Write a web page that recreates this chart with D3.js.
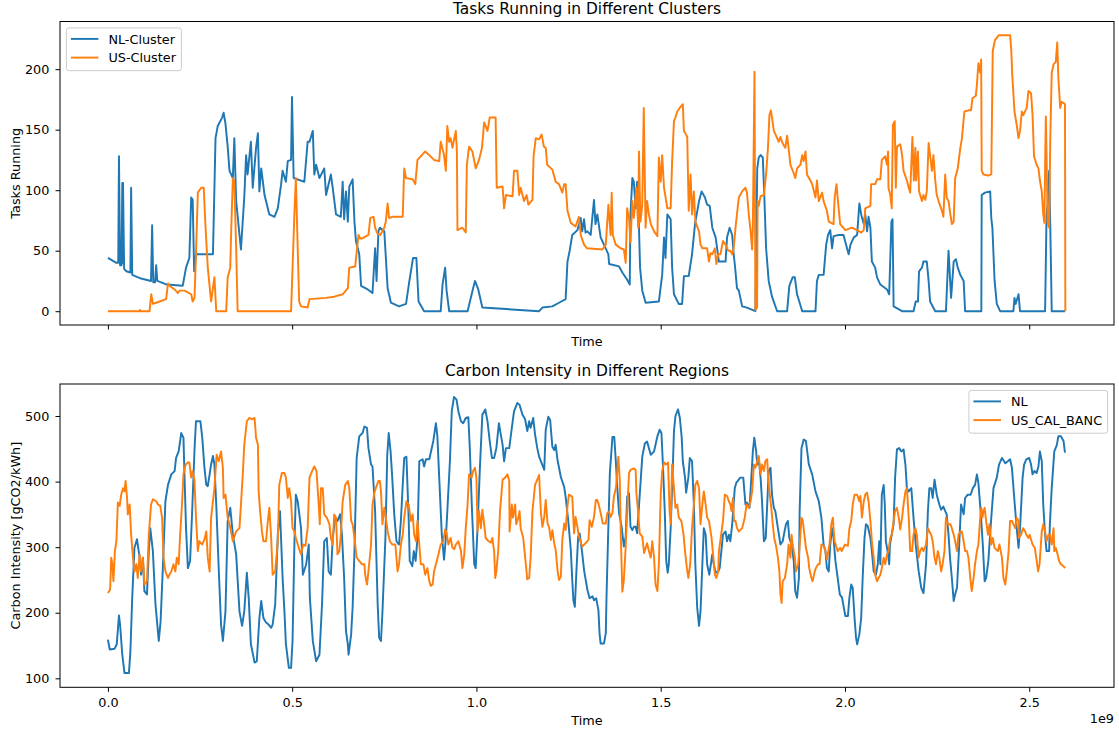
<!DOCTYPE html>
<html>
<head>
<meta charset="utf-8">
<script src="https://cdn.jsdelivr.net/npm/d3@7"></script>
<style>
  body { margin: 0; background: #fff; }
  svg { font-family: "DejaVu Sans", sans-serif; }
</style>
</head>
<body>
<svg id="chart" width="1119" height="730"></svg>
<script>
// time is in units of 1e9 (the axis shows the "1e9" offset)

// tasks running, NL cluster  [time, tasks]
const nlTasks = [[0,44],[0.023,40],[0.028,40],[0.030,128],[0.033,38],[0.037,38],[0.039,106],[0.040,40],[0.041,106],[0.044,35],[0.050,33],[0.061,32],[0.063,102],[0.066,30],[0.090,27],[0.117,25],[0.120,71],[0.123,24],[0.128,24],[0.131,38],[0.134,25],[0.160,22],[0.203,21],[0.212,36],[0.221,44],[0.226,94],[0.230,92],[0.234,33],[0.239,47],[0.285,47],[0.292,143],[0.298,153],[0.310,160],[0.314,164],[0.319,155],[0.325,136],[0.330,116],[0.339,110],[0.343,143],[0.348,91],[0.361,51],[0.370,94],[0.375,129],[0.379,113],[0.388,140],[0.393,102],[0.402,135],[0.407,147],[0.411,99],[0.416,118],[0.425,96],[0.438,80],[0.452,78],[0.461,85],[0.470,105],[0.474,116],[0.483,107],[0.488,124],[0.497,125],[0.4995,177],[0.504,110],[0.533,107],[0.542,140],[0.547,140],[0.556,149],[0.560,113],[0.565,121],[0.574,110],[0.587,118],[0.592,96],[0.605,113],[0.610,102],[0.619,80],[0.632,78],[0.637,107],[0.641,76],[0.646,99],[0.651,74],[0.655,103],[0.664,109],[0.669,74],[0.673,58],[0.682,47],[0.687,21],[0.705,18],[0.718,15],[0.725,52],[0.729,25],[0.734,66],[0.738,69],[0.750,66],[0.759,19],[0.768,7],[0.790,4],[0.809,6],[0.818,25],[0.828,44],[0.837,44],[0.843,8],[0.858,0],[0.903,0],[0.908,22],[0.915,36],[0.919,17],[0.926,0],[0.976,0],[0.991,19],[0.996,25],[1.005,18],[1.016,3],[1.170,0],[1.179,3],[1.206,4],[1.224,7],[1.242,10],[1.247,41],[1.253,50],[1.260,63],[1.274,67],[1.283,77],[1.287,66],[1.292,76],[1.296,65],[1.301,66],[1.310,63],[1.319,92],[1.323,72],[1.328,80],[1.337,61],[1.346,55],[1.358,47],[1.360,39],[1.387,37],[1.396,32],[1.409,26],[1.416,22],[1.418,80],[1.423,110],[1.427,107],[1.432,85],[1.436,107],[1.441,69],[1.444,36],[1.450,17],[1.459,7],[1.495,8],[1.504,30],[1.509,61],[1.513,44],[1.518,80],[1.527,76],[1.531,36],[1.536,14],[1.549,6],[1.558,6],[1.563,29],[1.576,29],[1.585,47],[1.593,72],[1.604,91],[1.611,99],[1.620,94],[1.626,88],[1.633,87],[1.640,69],[1.649,61],[1.658,41],[1.676,41],[1.680,61],[1.687,69],[1.694,63],[1.698,47],[1.701,39],[1.707,19],[1.712,17],[1.721,4],[1.734,3],[1.757,0],[1.762,118],[1.766,127],[1.771,129],[1.777,127],[1.781,96],[1.786,52],[1.793,25],[1.802,12],[1.816,0],[1.843,0],[1.849,21],[1.858,28],[1.864,28],[1.870,14],[1.884,0],[1.920,0],[1.924,25],[1.929,30],[1.942,30],[1.949,55],[1.954,63],[1.960,67],[1.965,52],[1.969,62],[1.983,63],[1.996,63],[2.003,55],[2.010,47],[2.015,55],[2.024,61],[2.033,63],[2.039,89],[2.044,80],[2.051,72],[2.055,80],[2.060,66],[2.064,78],[2.069,69],[2.073,41],[2.082,36],[2.087,28],[2.096,22],[2.114,18],[2.120,14],[2.126,74],[2.129,76],[2.132,4],[2.155,0],[2.186,0],[2.192,8],[2.198,8],[2.201,33],[2.209,36],[2.213,41],[2.222,41],[2.227,25],[2.231,8],[2.245,0],[2.274,0],[2.281,50],[2.288,11],[2.295,41],[2.301,43],[2.306,36],[2.313,30],[2.322,25],[2.326,0],[2.370,0],[2.371,96],[2.380,98],[2.394,99],[2.397,77],[2.400,69],[2.406,25],[2.412,6],[2.421,0],[2.457,0],[2.460,11],[2.463,6],[2.471,14],[2.475,0],[2.543,0],[2.547,80],[2.550,88],[2.554,116],[2.557,72],[2.561,0],[2.597,0]];

// tasks running, US cluster
const usTasks = [[0,0],[0.086,0],[0.087,1],[0.088,0],[0.113,0],[0.1175,14],[0.122,6],[0.131,7],[0.158,10],[0.163,23],[0.167,21],[0.181,18],[0.190,15],[0.194,17],[0.208,17],[0.226,14],[0.230,8],[0.235,11],[0.239,47],[0.244,98],[0.253,102],[0.260,102],[0.265,69],[0.271,36],[0.280,8],[0.285,19],[0.289,28],[0.294,0],[0.321,0],[0.325,28],[0.332,36],[0.334,61],[0.339,110],[0.343,107],[0.348,52],[0.352,0],[0.497,0],[0.506,80],[0.510,110],[0.515,52],[0.519,8],[0.524,4],[0.542,3],[0.547,10],[0.592,11],[0.614,12],[0.637,14],[0.651,19],[0.655,36],[0.671,37],[0.676,52],[0.680,63],[0.685,60],[0.689,60],[0.707,63],[0.712,77],[0.721,78],[0.725,69],[0.732,64],[0.739,63],[0.750,69],[0.754,74],[0.759,89],[0.763,77],[0.772,78],[0.800,78],[0.804,118],[0.809,110],[0.827,109],[0.834,105],[0.840,125],[0.849,128],[0.861,132],[0.872,129],[0.885,125],[0.899,124],[0.903,140],[0.912,129],[0.917,116],[0.921,153],[0.926,140],[0.930,143],[0.935,135],[0.944,149],[0.947,132],[0.9485,67],[0.962,69],[0.971,65],[0.974,121],[0.980,136],[0.989,132],[0.998,118],[1.007,125],[1.015,135],[1.021,156],[1.030,149],[1.036,160],[1.052,160],[1.055,102],[1.071,103],[1.075,85],[1.080,96],[1.098,95],[1.102,116],[1.111,116],[1.116,96],[1.120,102],[1.129,91],[1.136,96],[1.141,88],[1.152,92],[1.155,128],[1.161,143],[1.170,142],[1.177,146],[1.183,136],[1.188,135],[1.192,121],[1.206,117],[1.215,107],[1.224,105],[1.233,98],[1.238,105],[1.242,105],[1.247,83],[1.256,73],[1.269,70],[1.278,78],[1.283,63],[1.292,55],[1.300,52],[1.342,51],[1.351,55],[1.358,88],[1.364,63],[1.367,98],[1.370,63],[1.378,55],[1.391,52],[1.400,51],[1.405,40],[1.409,85],[1.414,77],[1.418,57],[1.423,91],[1.427,77],[1.434,102],[1.439,69],[1.441,132],[1.445,74],[1.450,88],[1.454,168],[1.459,69],[1.463,91],[1.468,80],[1.473,72],[1.482,66],[1.491,62],[1.495,127],[1.500,107],[1.504,129],[1.509,102],[1.518,85],[1.527,85],[1.531,124],[1.536,157],[1.540,160],[1.545,165],[1.554,169],[1.560,171],[1.563,149],[1.567,147],[1.572,144],[1.576,83],[1.581,113],[1.585,80],[1.590,99],[1.594,74],[1.604,66],[1.608,55],[1.613,52],[1.626,52],[1.631,41],[1.635,48],[1.640,47],[1.647,52],[1.651,39],[1.656,47],[1.662,47],[1.669,58],[1.676,55],[1.683,50],[1.689,50],[1.694,47],[1.698,52],[1.703,69],[1.712,94],[1.721,99],[1.730,102],[1.734,98],[1.739,80],[1.744,66],[1.748,51],[1.750,69],[1.7545,198],[1.757,1],[1.7615,3],[1.763,91],[1.766,87],[1.771,95],[1.780,96],[1.786,113],[1.791,135],[1.795,162],[1.799,166],[1.802,160],[1.807,149],[1.816,143],[1.820,140],[1.825,144],[1.829,140],[1.834,137],[1.838,135],[1.843,145],[1.847,135],[1.852,121],[1.861,114],[1.865,110],[1.870,118],[1.879,121],[1.884,129],[1.888,124],[1.893,132],[1.897,113],[1.906,108],[1.911,105],[1.920,94],[1.924,108],[1.929,91],[1.938,98],[1.942,91],[1.951,83],[1.956,74],[1.969,72],[1.972,94],[1.977,105],[1.981,91],[1.987,72],[2.001,67],[2.019,69],[2.033,67],[2.044,65],[2.051,67],[2.055,85],[2.069,87],[2.071,105],[2.082,105],[2.087,109],[2.096,109],[2.100,125],[2.109,128],[2.114,121],[2.117,132],[2.118,102],[2.123,96],[2.127,85],[2.130,154],[2.135,157],[2.138,102],[2.141,136],[2.150,138],[2.155,129],[2.159,116],[2.168,108],[2.173,102],[2.177,98],[2.183,144],[2.187,108],[2.191,135],[2.193,108],[2.198,132],[2.201,99],[2.209,91],[2.213,96],[2.218,92],[2.222,99],[2.227,139],[2.231,129],[2.236,116],[2.240,129],[2.245,108],[2.249,96],[2.254,91],[2.263,83],[2.267,78],[2.272,113],[2.276,94],[2.281,91],[2.286,80],[2.290,72],[2.295,74],[2.299,110],[2.306,118],[2.313,135],[2.317,142],[2.324,165],[2.335,166],[2.342,166],[2.346,176],[2.355,178],[2.358,187],[2.362,205],[2.367,197],[2.3695,208],[2.371,116],[2.376,113],[2.389,112],[2.397,113],[2.401,215],[2.407,224],[2.417,228],[2.448,228],[2.451,217],[2.454,195],[2.460,165],[2.466,154],[2.471,143],[2.475,149],[2.480,165],[2.484,162],[2.493,168],[2.498,182],[2.505,180],[2.509,162],[2.513,128],[2.520,121],[2.525,118],[2.529,108],[2.534,99],[2.538,80],[2.541,73],[2.545,161],[2.547,129],[2.550,73],[2.554,69],[2.557,140],[2.561,197],[2.566,204],[2.572,206],[2.576,222],[2.579,193],[2.584,168],[2.588,173],[2.593,172],[2.597,171],[2.598,0]];

// carbon intensity NL  [time, gCO2/kWh]
const nlCarbon = [[0,159],[0.005,144],[0.018,145],[0.024,152],[0.030,196],[0.033,182],[0.039,136],[0.045,108],[0.057,108],[0.061,141],[0.066,223],[0.072,299],[0.079,312],[0.086,284],[0.090,258],[0.095,284],[0.099,233],[0.106,228],[0.111,294],[0.115,329],[0.122,294],[0.129,213],[0.138,157],[0.143,187],[0.149,268],[0.156,370],[0.163,395],[0.172,411],[0.181,416],[0.185,436],[0.192,446],[0.199,474],[0.205,467],[0.208,406],[0.212,329],[0.217,268],[0.223,279],[0.229,360],[0.235,449],[0.239,492],[0.251,492],[0.256,467],[0.262,421],[0.267,395],[0.271,393],[0.276,411],[0.280,426],[0.285,439],[0.289,426],[0.294,365],[0.301,263],[0.307,182],[0.312,157],[0.319,202],[0.325,340],[0.332,360],[0.339,319],[0.348,289],[0.357,202],[0.364,180],[0.370,202],[0.377,261],[0.382,223],[0.388,152],[0.398,124],[0.404,126],[0.411,192],[0.416,218],[0.422,192],[0.429,185],[0.436,182],[0.443,177],[0.447,182],[0.454,213],[0.461,319],[0.467,355],[0.474,253],[0.479,202],[0.483,152],[0.491,116],[0.497,116],[0.501,157],[0.506,304],[0.510,380],[0.515,370],[0.524,329],[0.529,258],[0.538,274],[0.545,304],[0.548,223],[0.556,157],[0.565,126],[0.574,136],[0.581,213],[0.587,309],[0.594,314],[0.599,263],[0.605,258],[0.610,314],[0.617,345],[0.623,340],[0.630,350],[0.635,319],[0.641,253],[0.646,172],[0.651,152],[0.653,136],[0.660,167],[0.664,208],[0.669,294],[0.675,436],[0.682,469],[0.691,474],[0.696,484],[0.703,482],[0.707,451],[0.714,426],[0.718,423],[0.725,355],[0.732,213],[0.736,162],[0.741,157],[0.745,202],[0.753,314],[0.758,441],[0.762,474],[0.767,446],[0.771,411],[0.777,350],[0.783,309],[0.790,304],[0.795,340],[0.800,395],[0.804,436],[0.810,438],[0.816,345],[0.819,279],[0.826,271],[0.830,294],[0.835,279],[0.840,314],[0.845,431],[0.854,434],[0.858,423],[0.863,434],[0.872,434],[0.876,444],[0.883,462],[0.890,489],[0.894,469],[0.899,406],[0.906,319],[0.912,281],[0.917,314],[0.921,355],[0.928,431],[0.933,507],[0.939,529],[0.946,525],[0.951,507],[0.958,492],[0.964,489],[0.971,497],[0.978,498],[0.982,451],[0.987,370],[0.994,274],[0.998,268],[1.003,329],[1.009,416],[1.016,502],[1.024,510],[1.030,492],[1.036,462],[1.042,436],[1.048,436],[1.054,451],[1.061,489],[1.066,472],[1.071,456],[1.075,431],[1.080,451],[1.089,451],[1.096,482],[1.102,507],[1.111,520],[1.117,517],[1.125,502],[1.132,495],[1.138,477],[1.143,492],[1.147,482],[1.154,497],[1.159,472],[1.165,451],[1.170,438],[1.184,418],[1.188,479],[1.195,499],[1.200,494],[1.206,453],[1.211,448],[1.215,456],[1.220,433],[1.229,407],[1.238,392],[1.242,377],[1.249,341],[1.256,296],[1.260,250],[1.263,219],[1.267,209],[1.271,260],[1.276,316],[1.280,321],[1.287,291],[1.292,265],[1.301,235],[1.307,222],[1.315,225],[1.319,219],[1.325,222],[1.331,204],[1.334,169],[1.337,153],[1.346,153],[1.351,169],[1.353,225],[1.357,311],[1.362,413],[1.369,468],[1.374,468],[1.378,433],[1.382,392],[1.387,352],[1.394,331],[1.400,301],[1.405,316],[1.409,377],[1.414,382],[1.418,331],[1.423,326],[1.427,331],[1.432,331],[1.436,321],[1.441,362],[1.450,438],[1.457,458],[1.463,461],[1.473,441],[1.482,446],[1.491,469],[1.497,479],[1.502,474],[1.506,426],[1.511,355],[1.515,279],[1.519,261],[1.522,274],[1.527,329],[1.531,390],[1.536,477],[1.540,500],[1.547,510],[1.552,497],[1.557,467],[1.560,431],[1.566,406],[1.569,383],[1.575,406],[1.579,436],[1.585,431],[1.590,365],[1.594,274],[1.599,208],[1.604,180],[1.608,202],[1.613,274],[1.617,329],[1.622,319],[1.626,274],[1.632,258],[1.640,289],[1.644,274],[1.649,261],[1.656,263],[1.660,268],[1.669,319],[1.676,324],[1.680,309],[1.685,319],[1.689,309],[1.694,335],[1.701,390],[1.705,398],[1.716,406],[1.724,406],[1.730,365],[1.734,368],[1.741,360],[1.746,406],[1.750,446],[1.754,467],[1.759,446],[1.762,426],[1.766,436],[1.771,406],[1.775,370],[1.780,309],[1.785,314],[1.793,416],[1.798,421],[1.802,380],[1.807,360],[1.811,355],[1.818,329],[1.825,304],[1.831,309],[1.836,324],[1.840,335],[1.845,340],[1.849,314],[1.855,304],[1.861,279],[1.865,233],[1.870,223],[1.875,253],[1.877,355],[1.882,451],[1.888,464],[1.894,462],[1.902,426],[1.911,411],[1.920,385],[1.929,370],[1.936,345],[1.942,304],[1.947,294],[1.951,268],[1.956,263],[1.960,304],[1.965,329],[1.969,314],[1.974,279],[1.979,258],[1.986,228],[1.992,223],[2.001,195],[2.008,195],[2.012,223],[2.017,243],[2.021,238],[2.026,192],[2.030,162],[2.033,152],[2.039,167],[2.044,192],[2.048,253],[2.053,314],[2.057,335],[2.062,332],[2.069,314],[2.073,294],[2.078,263],[2.084,258],[2.089,274],[2.093,309],[2.096,274],[2.100,380],[2.105,395],[2.108,365],[2.111,309],[2.117,289],[2.120,274],[2.122,304],[2.132,335],[2.136,406],[2.141,449],[2.147,451],[2.153,446],[2.159,449],[2.164,426],[2.168,390],[2.173,385],[2.180,390],[2.186,345],[2.192,304],[2.200,263],[2.207,238],[2.213,230],[2.220,274],[2.225,355],[2.229,390],[2.234,390],[2.238,375],[2.243,403],[2.249,380],[2.256,365],[2.261,357],[2.267,362],[2.272,355],[2.276,350],[2.281,319],[2.285,284],[2.290,253],[2.295,218],[2.299,228],[2.304,238],[2.310,304],[2.315,365],[2.322,350],[2.326,375],[2.333,380],[2.341,380],[2.347,390],[2.353,395],[2.358,411],[2.362,398],[2.368,355],[2.374,304],[2.379,248],[2.383,253],[2.389,279],[2.397,345],[2.403,390],[2.412,406],[2.418,426],[2.426,436],[2.435,428],[2.442,431],[2.448,434],[2.453,421],[2.460,370],[2.466,329],[2.471,299],[2.475,329],[2.482,406],[2.486,426],[2.492,434],[2.500,436],[2.505,426],[2.509,411],[2.514,416],[2.520,413],[2.525,423],[2.529,446],[2.534,431],[2.538,365],[2.543,319],[2.547,294],[2.554,294],[2.556,335],[2.561,390],[2.568,446],[2.575,456],[2.579,469],[2.586,469],[2.593,462],[2.597,444]];

// carbon intensity US_CAL_BANC
const usCarbon = [[0,230],[0.006,235],[0.009,284],[0.012,274],[0.015,248],[0.019,294],[0.023,309],[0.027,368],[0.032,363],[0.036,380],[0.041,390],[0.045,385],[0.048,401],[0.052,375],[0.054,350],[0.059,365],[0.063,319],[0.068,284],[0.072,263],[0.077,274],[0.081,253],[0.086,289],[0.090,263],[0.095,284],[0.099,243],[0.106,248],[0.111,319],[0.117,365],[0.122,373],[0.131,370],[0.136,365],[0.142,363],[0.147,345],[0.151,284],[0.156,263],[0.163,253],[0.167,258],[0.172,263],[0.178,274],[0.183,263],[0.187,284],[0.192,274],[0.196,319],[0.201,365],[0.205,411],[0.211,426],[0.217,429],[0.221,429],[0.226,406],[0.230,416],[0.235,401],[0.239,345],[0.244,294],[0.248,309],[0.256,304],[0.262,312],[0.267,324],[0.271,284],[0.276,263],[0.280,345],[0.285,370],[0.289,390],[0.295,441],[0.301,431],[0.307,446],[0.312,421],[0.314,375],[0.319,380],[0.325,345],[0.330,335],[0.334,324],[0.339,309],[0.348,324],[0.357,329],[0.361,365],[0.366,411],[0.370,456],[0.377,492],[0.384,497],[0.391,495],[0.398,497],[0.402,467],[0.407,456],[0.409,385],[0.413,355],[0.418,324],[0.422,309],[0.429,309],[0.434,340],[0.438,360],[0.443,314],[0.447,258],[0.454,263],[0.461,309],[0.465,395],[0.472,413],[0.479,413],[0.483,406],[0.488,375],[0.492,390],[0.497,370],[0.501,329],[0.506,324],[0.510,314],[0.518,299],[0.524,289],[0.530,304],[0.536,302],[0.542,329],[0.547,406],[0.554,416],[0.560,423],[0.566,416],[0.572,365],[0.575,335],[0.578,390],[0.583,390],[0.587,350],[0.594,345],[0.601,335],[0.605,314],[0.610,304],[0.614,350],[0.619,345],[0.623,289],[0.628,294],[0.632,319],[0.637,370],[0.644,395],[0.651,401],[0.655,390],[0.660,340],[0.664,335],[0.669,314],[0.675,284],[0.682,279],[0.689,274],[0.696,274],[0.698,258],[0.703,243],[0.707,263],[0.714,304],[0.718,365],[0.723,383],[0.727,390],[0.734,401],[0.738,401],[0.741,385],[0.745,335],[0.750,360],[0.754,345],[0.759,324],[0.765,309],[0.772,304],[0.780,304],[0.786,263],[0.790,274],[0.795,304],[0.800,319],[0.804,345],[0.810,370],[0.816,365],[0.822,340],[0.827,350],[0.831,319],[0.836,309],[0.840,340],[0.845,304],[0.849,274],[0.856,274],[0.861,258],[0.867,268],[0.872,248],[0.876,241],[0.881,243],[0.885,263],[0.890,274],[0.897,289],[0.903,304],[0.910,309],[0.915,327],[0.919,322],[0.924,304],[0.930,314],[0.935,299],[0.940,297],[0.944,304],[0.951,309],[0.958,294],[0.962,268],[0.967,289],[0.971,329],[0.976,365],[0.980,411],[0.987,406],[0.991,416],[0.996,421],[1.000,406],[1.003,324],[1.007,355],[1.012,329],[1.016,357],[1.021,335],[1.025,314],[1.033,309],[1.039,307],[1.043,314],[1.048,294],[1.051,253],[1.054,263],[1.059,294],[1.064,355],[1.071,403],[1.078,406],[1.084,411],[1.089,401],[1.090,324],[1.096,365],[1.099,345],[1.105,365],[1.108,335],[1.114,345],[1.117,355],[1.120,329],[1.127,314],[1.134,274],[1.138,251],[1.143,253],[1.147,284],[1.152,355],[1.159,395],[1.165,403],[1.170,410],[1.175,352],[1.179,331],[1.184,346],[1.188,372],[1.193,336],[1.197,331],[1.202,311],[1.206,326],[1.211,306],[1.215,296],[1.220,265],[1.224,250],[1.229,255],[1.233,311],[1.238,336],[1.242,326],[1.247,362],[1.251,380],[1.260,377],[1.265,321],[1.269,346],[1.274,331],[1.278,316],[1.287,301],[1.296,306],[1.304,311],[1.307,341],[1.313,331],[1.319,346],[1.324,372],[1.328,372],[1.333,362],[1.337,352],[1.343,336],[1.351,336],[1.355,352],[1.360,354],[1.364,346],[1.369,352],[1.373,377],[1.379,392],[1.385,438],[1.389,402],[1.392,311],[1.396,232],[1.400,250],[1.405,301],[1.409,352],[1.414,413],[1.418,418],[1.427,420],[1.432,418],[1.434,382],[1.439,352],[1.443,321],[1.450,316],[1.455,291],[1.463,306],[1.468,294],[1.473,284],[1.477,309],[1.482,284],[1.486,243],[1.491,233],[1.495,274],[1.500,380],[1.504,416],[1.509,429],[1.515,426],[1.520,429],[1.524,355],[1.527,335],[1.531,426],[1.536,390],[1.540,360],[1.545,365],[1.549,345],[1.556,340],[1.562,319],[1.566,294],[1.571,268],[1.575,253],[1.580,274],[1.585,329],[1.590,365],[1.594,395],[1.599,401],[1.604,390],[1.608,335],[1.613,365],[1.617,385],[1.622,365],[1.626,345],[1.631,340],[1.638,314],[1.642,289],[1.647,258],[1.651,253],[1.656,263],[1.658,294],[1.669,340],[1.674,380],[1.680,378],[1.685,370],[1.689,365],[1.692,355],[1.696,375],[1.699,340],[1.703,340],[1.707,329],[1.712,324],[1.721,329],[1.728,345],[1.733,365],[1.739,360],[1.744,370],[1.748,385],[1.753,426],[1.757,421],[1.762,431],[1.766,439],[1.771,411],[1.775,426],[1.780,416],[1.784,431],[1.789,434],[1.791,411],[1.795,385],[1.801,355],[1.804,335],[1.808,314],[1.813,302],[1.818,284],[1.822,263],[1.825,228],[1.828,215],[1.831,248],[1.837,253],[1.843,274],[1.847,304],[1.852,284],[1.855,319],[1.858,304],[1.864,284],[1.867,263],[1.873,274],[1.876,294],[1.882,345],[1.885,342],[1.891,314],[1.894,299],[1.900,284],[1.903,268],[1.909,253],[1.912,248],[1.918,263],[1.921,268],[1.927,274],[1.931,274],[1.936,304],[1.942,302],[1.947,294],[1.951,281],[1.958,304],[1.963,335],[1.967,345],[1.969,329],[1.972,309],[1.976,302],[1.980,294],[1.987,299],[1.991,294],[2.000,304],[2.008,302],[2.012,329],[2.017,340],[2.021,365],[2.026,380],[2.033,380],[2.039,370],[2.042,378],[2.046,345],[2.051,370],[2.055,380],[2.060,383],[2.064,370],[2.069,340],[2.073,309],[2.078,284],[2.082,258],[2.087,248],[2.091,253],[2.096,258],[2.100,268],[2.105,284],[2.109,274],[2.114,289],[2.118,294],[2.123,314],[2.127,319],[2.132,340],[2.136,355],[2.141,360],[2.146,345],[2.150,327],[2.155,345],[2.159,365],[2.164,385],[2.168,390],[2.173,345],[2.177,294],[2.182,294],[2.186,319],[2.191,329],[2.195,319],[2.200,284],[2.204,294],[2.209,299],[2.213,294],[2.220,304],[2.225,329],[2.229,324],[2.234,319],[2.238,309],[2.243,284],[2.247,274],[2.252,294],[2.256,284],[2.261,263],[2.265,274],[2.270,294],[2.274,345],[2.279,335],[2.286,335],[2.290,329],[2.295,319],[2.299,309],[2.304,294],[2.308,319],[2.313,324],[2.317,324],[2.322,309],[2.326,294],[2.331,294],[2.335,284],[2.340,253],[2.344,233],[2.349,253],[2.353,274],[2.358,294],[2.362,304],[2.367,345],[2.370,360],[2.373,345],[2.376,355],[2.379,360],[2.383,340],[2.388,319],[2.392,335],[2.397,304],[2.401,314],[2.406,299],[2.415,294],[2.419,304],[2.426,284],[2.430,253],[2.435,243],[2.439,263],[2.444,294],[2.448,340],[2.453,340],[2.457,335],[2.462,329],[2.466,345],[2.471,340],[2.472,314],[2.478,319],[2.483,329],[2.489,324],[2.492,319],[2.498,314],[2.501,319],[2.509,304],[2.515,299],[2.519,284],[2.524,263],[2.528,274],[2.534,324],[2.538,335],[2.543,324],[2.547,309],[2.552,319],[2.556,319],[2.561,304],[2.566,329],[2.568,294],[2.572,299],[2.577,289],[2.581,279],[2.586,274],[2.593,271],[2.597,268]];

const xTicks = [0, 0.5, 1, 1.5, 2, 2.5];
const taskTicks = [0, 50, 100, 150, 200];
const carbonTicks = [100, 200, 300, 400, 500];
const taskNames = ["NL-Cluster", "US-Cluster"];
const carbonNames = ["NL", "US_CAL_BANC"];
const colors = ["#1f77b4", "#ff7f0e"];

const FS = 12.8;      // tick / label / legend font size
const TITLE_FS = 15.4;
const LEFT = 60, RIGHT = 1114;

const svg = d3.select("#chart");
svg.append("rect").attr("width", 1119).attr("height", 730).attr("fill", "#fff");

const x = d3.scaleLinear().domain([-0.13, 2.73]).range([LEFT, RIGHT]);
const yTasks = d3.scaleLinear().domain([-11.4, 239.4]).range([325, 21.5]);
const yCarbon = d3.scaleLinear().domain([86.3, 548.8]).range([687.3, 384]);

function drawLegend(g, names, corner, top) {
    let lg = g.append("g");
    let texts = names.map((n, i) => lg.append("text")
        .attr("font-size", FS).attr("fill", "#000").text(n));
    let textW = d3.max(texts, t => t.node().getComputedTextLength());
    let w = 4.5 + 27.5 + 10 + textW + 5.5, h = 42.8;
    let x0 = corner === "left" ? LEFT + 6.4 : RIGHT - 6.4 - w;
    let y0 = top + 6.4;
    lg.insert("rect", "text")
        .attr("x", x0).attr("y", y0).attr("width", w).attr("height", h)
        .attr("rx", 2.5).attr("fill", "#fff").attr("fill-opacity", 0.8)
        .attr("stroke", "#cccccc").attr("stroke-width", 1);
    names.forEach((n, i) => {
        let ry = y0 + 11 + i * 18.7;
        lg.append("line")
            .attr("x1", x0 + 4.5).attr("x2", x0 + 32).attr("y1", ry).attr("y2", ry)
            .attr("stroke", colors[i]).attr("stroke-width", 1.94);
        texts[i].attr("x", x0 + 42).attr("y", ry + 4.6);
    });
}

function drawPanel(opt) {
    let g = svg.append("g");
    let [bottom, top] = opt.y.range();
    let line = d3.line().x(d => x(d[0])).y(d => opt.y(d[1]));

    opt.series.forEach((s, i) => {
        g.append("path").datum(s)
            .attr("d", line)
            .attr("fill", "none")
            .attr("stroke", colors[i])
            .attr("stroke-width", 1.94)
            .attr("stroke-linejoin", "round");
    });

    // x axis (labels only on the lower panel, shared x)
    let xa = d3.axisBottom(x).tickValues(xTicks).tickSize(4.5).tickPadding(6.5)
        .tickFormat(opt.showX ? d3.format(".1f") : () => "");
    let gx = g.append("g").attr("transform", `translate(0,${bottom})`).call(xa);

    let ya = d3.axisLeft(opt.y).tickValues(opt.ticks).tickSize(4.5).tickPadding(6.2);
    let gy = g.append("g").attr("transform", `translate(${LEFT},0)`).call(ya);

    [gx, gy].forEach(a => {
        a.select(".domain").remove();
        a.selectAll(".tick line").attr("stroke", "#000").attr("stroke-width", 1);
        a.selectAll(".tick text").attr("font-size", FS).attr("fill", "#000")
            .attr("font-family", "DejaVu Sans");
    });

    // frame
    g.append("rect")
        .attr("x", LEFT).attr("y", top)
        .attr("width", RIGHT - LEFT).attr("height", bottom - top)
        .attr("fill", "none").attr("stroke", "#000").attr("stroke-width", 1);

    g.append("text")
        .attr("x", (LEFT + RIGHT) / 2).attr("y", top - 7.7)
        .attr("text-anchor", "middle").attr("font-size", TITLE_FS)
        .text(opt.title);

    g.append("text")
        .attr("x", (LEFT + RIGHT) / 2).attr("y", opt.xlabelY)
        .attr("text-anchor", "middle").attr("font-size", FS)
        .text("Time");

    g.append("text")
        .attr("transform", `translate(19.5,${(top + bottom) / 2}) rotate(-90)`)
        .attr("text-anchor", "middle").attr("font-size", FS)
        .text(opt.ylabel);

    drawLegend(g, opt.names, opt.legend, top);
}

drawPanel({
    y: yTasks, ticks: taskTicks, series: [nlTasks, usTasks], names: taskNames,
    title: "Tasks Running in Different Clusters", ylabel: "Tasks Running",
    showX: false, xlabelY: 345.7, legend: "left"
});

drawPanel({
    y: yCarbon, ticks: carbonTicks, series: [nlCarbon, usCarbon], names: carbonNames,
    title: "Carbon Intensity in Different Regions", ylabel: "Carbon Intensity [gCO2/kWh]",
    showX: true, xlabelY: 724.7, legend: "right"
});

// offset text of the shared x axis
svg.append("text")
    .attr("x", RIGHT).attr("y", 723)
    .attr("text-anchor", "end").attr("font-size", FS)
    .text("1e9");
</script>
</body>
</html>
